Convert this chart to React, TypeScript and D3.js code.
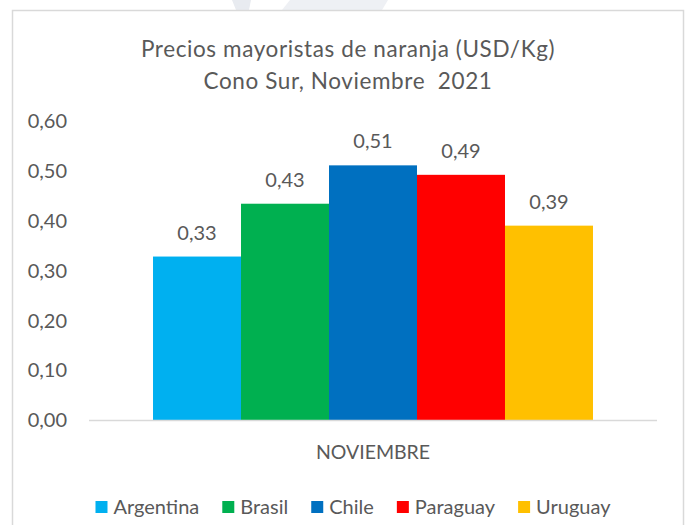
import React, { useLayoutEffect, useRef, useState } from "react";
import * as d3 from "d3";

const categories = ["NOVIEMBRE"];
const series = ["Argentina", "Brasil", "Chile", "Paraguay", "Uruguay"];
const values = [0.328, 0.434, 0.511, 0.492, 0.39];
const colors = ["#00B0F0", "#00B050", "#0070C0", "#FF0000", "#FFC000"];
const yTicks = [0, 0.1, 0.2, 0.3, 0.4, 0.5, 0.6];
const titleLines = ["Precios mayoristas de naranja (USD/Kg)", "Cono Sur, Noviembre  2021"];

const W = 685;
const H = 525;
const FONT = "Lato, 'Open Sans', sans-serif";
const TEXT = "#595959";
const fmt = (v: number) => v.toFixed(2).replace(".", ",");

export default function App() {
  const plot = { left: 89, right: 657, top: 121, bottom: 420 };
  const y = d3.scaleLinear().domain([0, 0.6]).range([plot.bottom, plot.top]);
  const x0 = d3.scaleBand<string>().domain(categories).range([plot.left, plot.right]).paddingInner(0).paddingOuter(0.1455);
  const x1 = d3.scaleBand<string>().domain(series).range([0, x0.bandwidth()]).padding(0);

  const legendRef = useRef<SVGGElement>(null);
  const [widths, setWidths] = useState<number[]>(series.map((s) => s.length * 9));
  useLayoutEffect(() => {
    if (!legendRef.current) return;
    const ts = Array.from(legendRef.current.querySelectorAll("text.lt")) as SVGTextElement[];
    const w = ts.map((t) => t.getComputedTextLength());
    if (w.some((v, i) => Math.abs(v - widths[i]) > 0.5)) setWidths(w);
  }, [widths]);

  const sq = 12, gapText = 6, gapItem = 23;
  const itemW = widths.map((w) => sq + gapText + w);
  const total = d3.sum(itemW) + gapItem * (series.length - 1);
  const legendStart = 353 - total / 2;
  const offsets: number[] = [];
  let acc = legendStart;
  itemW.forEach((w) => { offsets.push(acc); acc += w + gapItem; });
  const legendY = 507;

  return (
    <svg width={W} height={H} style={{ position: "absolute", left: 0, top: 0, background: "#fff" }} fontFamily={FONT}>
      <rect x={0} y={0} width={W} height={H} fill="#fff" />
      {/* faint watermark */}
      <polygon points="232,0 251,0 249,10 236,10" fill="#e8ebf0" />
      <polygon points="290,0 388,0 382,10 282,10" fill="#eef0f4" />
      <rect x={12.5} y={10.5} width={671} height={540} fill="#fff" stroke="#d9d9d9" strokeWidth={1.5} />

      {titleLines.map((t, i) => (
        <text key={i} x={348} y={57 + i * 32} textAnchor="middle" fontSize={22.5} letterSpacing={0.6} fill={TEXT} style={{ whiteSpace: "pre" }}>
          {t}
        </text>
      ))}

      {yTicks.map((t) => (
        <text key={t} x={67} y={y(t)} dy="0.36em" textAnchor="end" fontSize={20} fill={TEXT}>
          {fmt(t)}
        </text>
      ))}

      {categories.map((c) => (
        <g key={c} transform={`translate(${x0(c)},0)`}>
          {series.map((s, i) => (
            <rect key={s} x={x1(s)} y={y(values[i])} width={x1.bandwidth()} height={y(0) - y(values[i])} fill={colors[i]} />
          ))}
          {series.map((s, i) => (
            <text key={s + "l"} x={(x1(s) as number) + x1.bandwidth() / 2} y={y(values[i]) - 17} textAnchor="middle" fontSize={20} fill={TEXT}>
              {fmt(values[i])}
            </text>
          ))}
        </g>
      ))}

      <line x1={plot.left} x2={plot.right} y1={plot.bottom + 0.5} y2={plot.bottom + 0.5} stroke="#d9d9d9" strokeWidth={1.5} />

      {categories.map((c) => (
        <text key={c} x={(x0(c) as number) + x0.bandwidth() / 2} y={459} textAnchor="middle" fontSize={19.5} fill={TEXT}>
          {c}
        </text>
      ))}

      <g ref={legendRef}>
        {series.map((s, i) => (
          <g key={s} transform={`translate(${offsets[i]},${legendY})`}>
            <rect x={0} y={-sq / 2} width={sq} height={sq} fill={colors[i]} />
            <text className="lt" x={sq + gapText} y={0} dy="0.36em" fontSize={20} fill={TEXT}>
              {s}
            </text>
          </g>
        ))}
      </g>
    </svg>
  );
}
